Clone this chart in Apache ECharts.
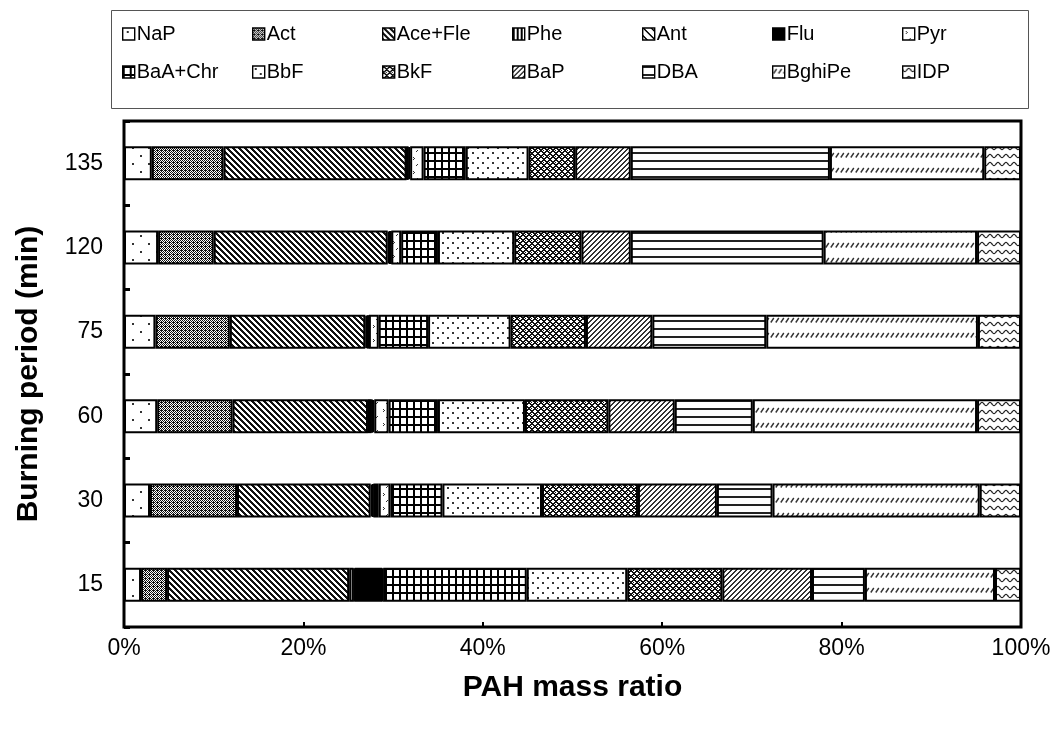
<!DOCTYPE html>
<html>
<head>
<meta charset="utf-8">
<script src="https://cdn.jsdelivr.net/npm/echarts@6/dist/echarts.min.js"></script>
<style>
  html, body { margin: 0; padding: 0; background: #fff; }
  #chart { width: 1058px; height: 731px; }
</style>
</head>
<body>
<div id="chart"></div>
<script>
// Burning periods (min), bottom to top
const categories = ['15', '30', '60', '75', '120', '135'];

// PAH mass ratio (%) of each compound, one value per burning period
const NaP    = [1.9, 2.9, 3.7, 3.5, 3.8, 3.1];
const Act    = [2.9, 9.7, 8.4, 8.3, 6.2, 8.0];
const AceFle = [20.3, 14.9, 15.1, 15.1, 19.4, 20.4];
const Phe    = [0.5, 0.2, 0.4, 0.2, 0.2, 0.1];
const Ant    = [0.1, 0.1, 0.1, 0.1, 0.1, 0.1];
const Flu    = [3.1, 0.6, 0.2, 0.1, 0.1, 0.2];
const Pyr    = [0.1, 1.3, 1.6, 1.1, 1.1, 1.5];
const BaAChr = [16.0, 5.8, 5.5, 5.5, 4.1, 4.7];
const BbF    = [11.2, 11.1, 9.7, 9.2, 8.5, 7.0];
const BkF    = [10.6, 10.7, 9.3, 8.4, 7.5, 5.2];
const BaP    = [10.0, 8.8, 7.4, 7.4, 5.5, 6.2];
const DBA    = [5.9, 6.2, 8.7, 12.7, 21.5, 22.2];
const BghiPe = [14.5, 23.1, 25.0, 23.6, 17.1, 17.2];
const IDP    = [2.9, 4.6, 4.9, 4.8, 4.9, 4.1];

const compoundNames = ['NaP', 'Act', 'Ace+Fle', 'Phe', 'Ant', 'Flu', 'Pyr',
                       'BaA+Chr', 'BbF', 'BkF', 'BaP', 'DBA', 'BghiPe', 'IDP'];
const compoundValues = [NaP, Act, AceFle, Phe, Ant, Flu, Pyr,
                        BaAChr, BbF, BkF, BaP, DBA, BghiPe, IDP];

const xTickValues = [0, 20, 40, 60, 80, 100];

// ---- monochrome fill patterns ----
function tile(w, h, draw) {
  const c = document.createElement('canvas');
  c.width = w; c.height = h;
  const ctx = c.getContext('2d');
  ctx.fillStyle = '#fff';
  ctx.fillRect(0, 0, w, h);
  ctx.fillStyle = '#000';
  ctx.strokeStyle = '#000';
  draw(ctx, w, h);
  return { image: c, repeat: 'repeat' };
}
function pixels(w, h, test, color) {
  return tile(w, h, (ctx) => {
    ctx.fillStyle = color || '#000';
    for (let y = 0; y < h; y++) {
      for (let x = 0; x < w; x++) {
        if (test(x, y)) ctx.fillRect(x, y, 1, 1);
      }
    }
  });
}
function dots(w, h, pts, size, color) {
  return tile(w, h, (ctx) => {
    ctx.fillStyle = color || '#222';
    pts.forEach(p => ctx.fillRect(p[0], p[1], size, size));
  });
}

const patterns = {
  'NaP': dots(16, 16, [[4, 3], [12, 11]], 2, '#333'),
  'Act': pixels(4, 4, (x, y) => (x + y) % 2 === 0 || (x === 1 && y === 2), '#111'),
  'Ace+Fle': pixels(6, 6, (x, y) => ((x - y) % 6 + 6) % 6 < 3, '#111'),
  'Phe': pixels(4, 1, (x) => x < 2, '#000'),
  'Ant': pixels(8, 8, (x, y) => ((x - y) % 8 + 8) % 8 < 2, '#000'),
  'Flu': '#000',
  'Pyr': dots(10, 14, [[3, 3], [4, 4], [3, 5], [7, 10], [6, 11]], 1, '#333'),
  'BaA+Chr': pixels(7, 8, (x, y) => x < 2 || y < 2, '#000'),
  'BbF': dots(10, 10, [[2, 2], [7, 7]], 2, '#333'),
  'BkF': pixels(6, 6, (x, y) => ((x + y) % 6 < 2) || (((x - y) % 6 + 6) % 6 < 2) || (x === 3 && y === 0), '#111'),
  'BaP': pixels(5, 5, (x, y) => (x + y) % 5 < 2, '#333'),
  'DBA': pixels(1, 8, (x, y) => y < 2, '#222'),
  'BghiPe': tile(5, 15, (ctx) => {
    ctx.lineWidth = 1.4;
    ctx.strokeStyle = '#333';
    ctx.beginPath();
    ctx.moveTo(0.8, 7.5);
    ctx.lineTo(3.8, 3);
    ctx.stroke();
  }),
  'IDP': tile(8, 8, (ctx) => {
    ctx.lineWidth = 1.2;
    ctx.strokeStyle = '#222';
    ctx.beginPath();
    for (let i = -1; i <= 9; i += 0.5) {
      const y = 4 + 1.6 * Math.sin(2 * Math.PI * i / 8);
      if (i === -1) ctx.moveTo(i, y); else ctx.lineTo(i, y);
    }
    ctx.stroke();
  })
};

const FONT = '"Liberation Sans", Arial, sans-serif';

const series = compoundNames.map((name, i) => ({
  name: name,
  type: 'bar',
  stack: 'total',
  data: compoundValues[i],
  barWidth: 34,
  itemStyle: { color: patterns[name], borderColor: '#000', borderWidth: 2 },
  emphasis: { disabled: true }
}));

// one legend block per compound, laid out in a 7 x 2 table
const legends = compoundNames.map((name, i) => ({
  data: [name],
  left: 122 + (i % 7) * 130,
  top: i < 7 ? 24 : 62,
  padding: 0,
  icon: 'rect',
  itemWidth: 12,
  itemHeight: 12,
  selectedMode: false,
  itemStyle: { borderColor: '#000', borderWidth: 1.4 },
  textStyle: { color: '#000', fontSize: 20, fontFamily: FONT, padding: [0, 0, 0, -3] }
}));

const chart = echarts.init(document.getElementById('chart'), null, { renderer: 'canvas' });
chart.setOption({
  animation: false,
  backgroundColor: '#fff',
  legend: legends,
  graphic: [{
    type: 'rect',
    shape: { x: 111.5, y: 10.5, width: 917, height: 98 },
    style: { fill: null, stroke: '#555', lineWidth: 1 },
    silent: true
  }],
  grid: {
    left: 124, right: 37, top: 121, bottom: 104,
    show: true, borderColor: '#000', borderWidth: 3, backgroundColor: '#fff'
  },
  xAxis: {
    type: 'value',
    min: xTickValues[0],
    max: xTickValues[xTickValues.length - 1],
    interval: xTickValues[1] - xTickValues[0],
    name: 'PAH mass ratio',
    nameLocation: 'middle',
    nameGap: 46,
    nameTextStyle: { color: '#000', fontSize: 30, fontWeight: 'bold', fontFamily: FONT },
    axisLine: { show: false },
    axisTick: { show: true, inside: true, length: 5, lineStyle: { color: '#000', width: 2 } },
    splitLine: { show: false },
    axisLabel: { formatter: '{value}%', color: '#000', fontSize: 23, fontFamily: FONT, margin: 10 }
  },
  yAxis: {
    type: 'category',
    data: categories,
    name: 'Burning period (min)',
    nameLocation: 'middle',
    nameGap: 80,
    nameTextStyle: { color: '#000', fontSize: 30, fontWeight: 'bold', fontFamily: FONT },
    axisLine: { show: false },
    axisTick: { show: true, inside: true, length: 6, lineStyle: { color: '#000', width: 3 } },
    axisLabel: { color: '#000', fontSize: 23, fontFamily: FONT, margin: 21 },
    splitLine: { show: false }
  },
  series: series
});
</script>
</body>
</html>
